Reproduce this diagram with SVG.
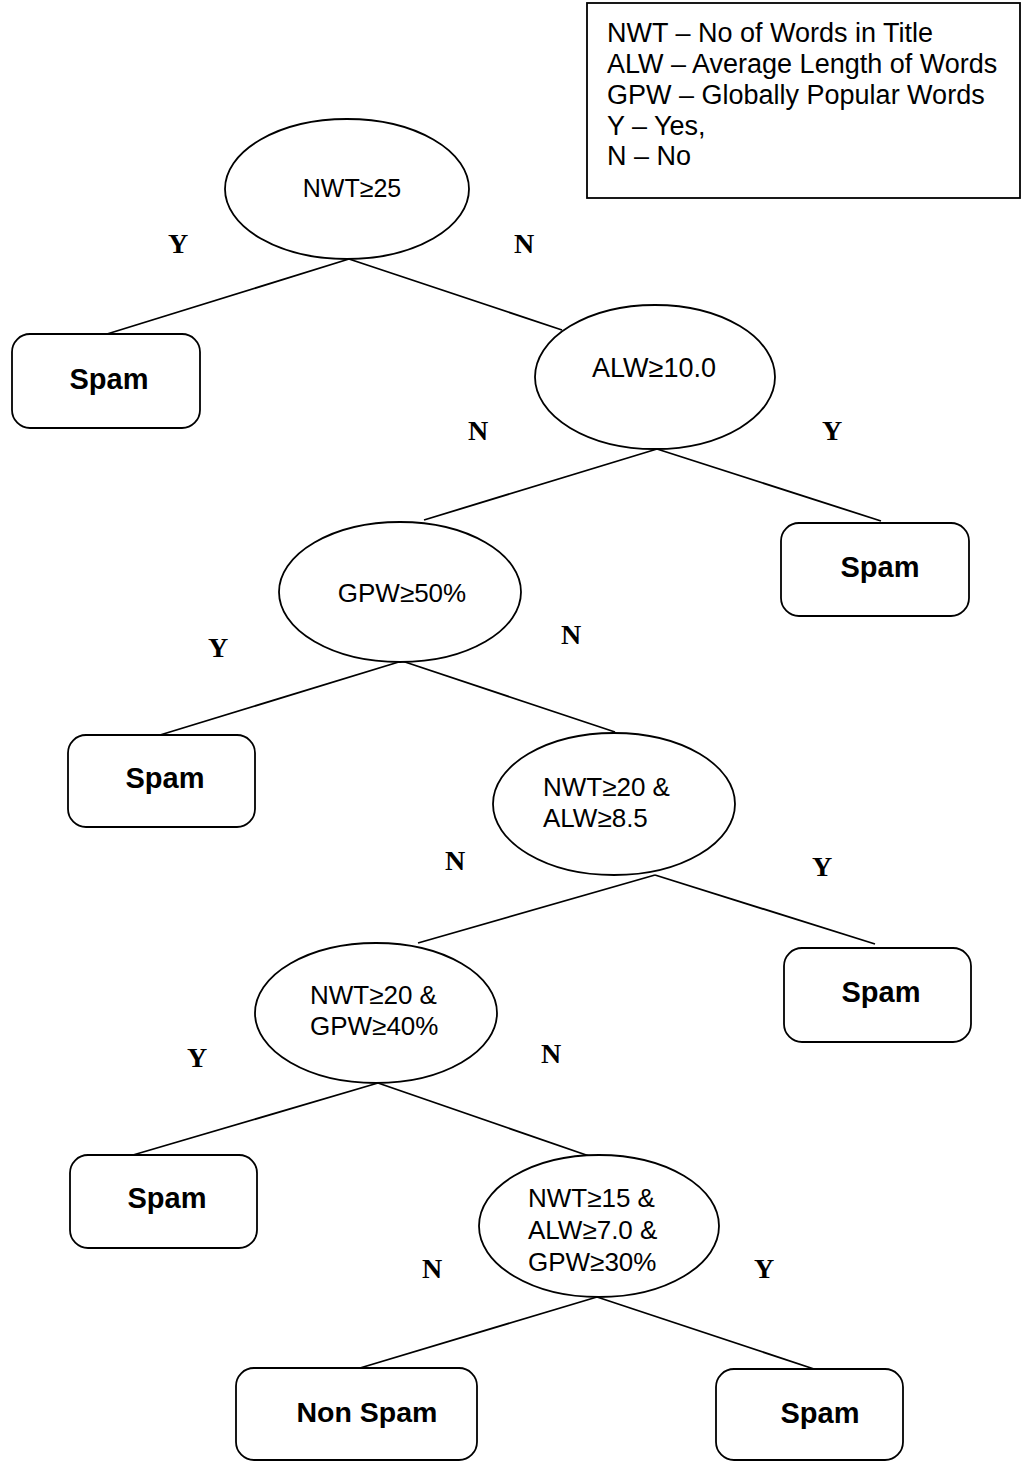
<svg xmlns="http://www.w3.org/2000/svg" width="1022" height="1462" viewBox="0 0 1022 1462">
  <style>
    .cond { fill: #fff; stroke: #000; stroke-width: 1.8; }
    .leaf { fill: #fff; stroke: #000; stroke-width: 1.8; }
    .ctext { font-family: "Liberation Sans", Arial, sans-serif; font-size: 26px; fill: #000; }
    .ltext { font-family: "Liberation Sans", Arial, sans-serif; font-size: 29px; font-weight: bold; fill: #000; text-anchor: middle; }
    .yn { font-family: "Liberation Serif", "Times New Roman", serif; font-size: 28px; font-weight: bold; fill: #000; text-anchor: middle; }
    .legend { font-family: "Liberation Sans", Arial, sans-serif; font-size: 27px; fill: #000; }
    .edge { stroke: #000; stroke-width: 1.8; fill: none; }
  </style>
  <rect width="1022" height="1462" fill="#fff"/>

  <!-- legend -->
  <g id="legend">
    <rect x="587" y="3" width="433" height="195" fill="#fff" stroke="#000" stroke-width="1.8"/>
    <text class="legend" x="607" y="42">NWT – No of Words in Title</text>
    <text class="legend" x="607" y="73">ALW – Average Length of Words</text>
    <text class="legend" x="607" y="104">GPW – Globally Popular Words</text>
    <text class="legend" x="607" y="135">Y – Yes,</text>
    <text class="legend" x="607" y="165">N – No</text>
  </g>

  <!-- connectors -->
  <g id="connectors">
    <line class="edge" x1="349" y1="259" x2="107" y2="334"/>
    <line class="edge" x1="349" y1="259" x2="562" y2="330"/>
    <line class="edge" x1="657" y1="449" x2="424" y2="520"/>
    <line class="edge" x1="657" y1="449" x2="881" y2="521"/>
    <line class="edge" x1="402" y1="661" x2="160" y2="735"/>
    <line class="edge" x1="402" y1="661" x2="615" y2="732"/>
    <line class="edge" x1="655" y1="875" x2="418" y2="943"/>
    <line class="edge" x1="655" y1="875" x2="875" y2="944"/>
    <line class="edge" x1="378" y1="1083" x2="133" y2="1155"/>
    <line class="edge" x1="378" y1="1083" x2="592" y2="1157"/>
    <line class="edge" x1="597" y1="1297" x2="360" y2="1368"/>
    <line class="edge" x1="597" y1="1297" x2="814" y2="1369"/>
  </g>

  <!-- edge labels -->
  <g id="edge-labels">
    <text class="yn" x="178" y="253">Y</text>
    <text class="yn" x="524" y="253">N</text>
    <text class="yn" x="478" y="440">N</text>
    <text class="yn" x="832" y="440">Y</text>
    <text class="yn" x="218" y="657">Y</text>
    <text class="yn" x="571" y="644">N</text>
    <text class="yn" x="455" y="870">N</text>
    <text class="yn" x="822" y="876">Y</text>
    <text class="yn" x="197" y="1067">Y</text>
    <text class="yn" x="551" y="1063">N</text>
    <text class="yn" x="432" y="1278">N</text>
    <text class="yn" x="764" y="1278">Y</text>
  </g>

  <!-- decision nodes -->
  <g id="n-nwt25">
    <ellipse class="cond" cx="347" cy="189" rx="122" ry="70"/>
    <text class="ctext" x="352" y="197" text-anchor="middle" style="font-size:25px">NWT≥25</text>
  </g>
  <g id="n-alw10">
    <ellipse class="cond" cx="655" cy="377" rx="120" ry="72"/>
    <text class="ctext" x="654" y="377" text-anchor="middle" style="font-size:27px">ALW≥10.0</text>
  </g>
  <g id="n-gpw50">
    <ellipse class="cond" cx="400" cy="592" rx="121" ry="70"/>
    <text class="ctext" x="402" y="602" text-anchor="middle">GPW≥50%</text>
  </g>
  <g id="n-nwt20-alw85">
    <ellipse class="cond" cx="614" cy="804" rx="121" ry="71"/>
    <text class="ctext" x="543" y="796">NWT≥20 &amp;</text>
    <text class="ctext" x="543" y="827">ALW≥8.5</text>
  </g>
  <g id="n-nwt20-gpw40">
    <ellipse class="cond" cx="376" cy="1013" rx="121" ry="70"/>
    <text class="ctext" x="310" y="1004">NWT≥20 &amp;</text>
    <text class="ctext" x="310" y="1035">GPW≥40%</text>
  </g>
  <g id="n-nwt15-alw7-gpw30">
    <ellipse class="cond" cx="599" cy="1226" rx="120" ry="71"/>
    <text class="ctext" x="528" y="1207">NWT≥15 &amp;</text>
    <text class="ctext" x="528" y="1239">ALW≥7.0 &amp;</text>
    <text class="ctext" x="528" y="1271">GPW≥30%</text>
  </g>

  <!-- leaf nodes -->
  <g id="leaf-1">
    <rect class="leaf" x="12" y="334" width="188" height="94" rx="18"/>
    <text class="ltext" x="109" y="389">Spam</text>
  </g>
  <g id="leaf-2">
    <rect class="leaf" x="781" y="523" width="188" height="93" rx="18"/>
    <text class="ltext" x="880" y="577">Spam</text>
  </g>
  <g id="leaf-3">
    <rect class="leaf" x="68" y="735" width="187" height="92" rx="18"/>
    <text class="ltext" x="165" y="788">Spam</text>
  </g>
  <g id="leaf-4">
    <rect class="leaf" x="784" y="948" width="187" height="94" rx="18"/>
    <text class="ltext" x="881" y="1002">Spam</text>
  </g>
  <g id="leaf-5">
    <rect class="leaf" x="70" y="1155" width="187" height="93" rx="18"/>
    <text class="ltext" x="167" y="1208">Spam</text>
  </g>
  <g id="leaf-6">
    <rect class="leaf" x="236" y="1368" width="241" height="92" rx="18"/>
    <text class="ltext" x="367" y="1422" style="font-size:28.5px">Non Spam</text>
  </g>
  <g id="leaf-7">
    <rect class="leaf" x="716" y="1369" width="187" height="91" rx="18"/>
    <text class="ltext" x="820" y="1423">Spam</text>
  </g>
</svg>
